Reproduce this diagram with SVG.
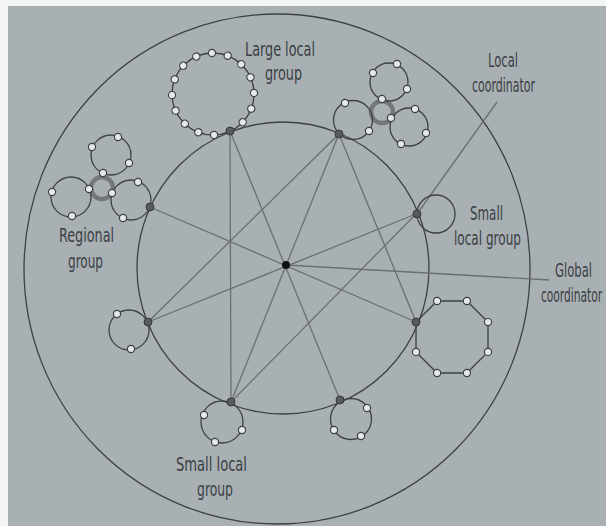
<svg xmlns="http://www.w3.org/2000/svg" width="606" height="526" viewBox="0 0 606 526">
<style>
.ring{fill:none;stroke:#3d4045;stroke-width:1.3}
.s{fill:#e6e9ea;stroke:#3d4045;stroke-width:1.2}
.lc{fill:#585b5e;stroke:#35383c;stroke-width:1}
.hub{fill:none;stroke:#74777a;stroke-width:4.5}
.conn line{stroke:#6a6f72;stroke-width:1.3}
text{font-family:"Liberation Sans Narrow","DejaVu Sans Condensed","Liberation Sans",sans-serif;font-size:19px;fill:#3a3e44}
text.dc{font-family:"DejaVu Sans Condensed","DejaVu Sans",sans-serif}
</style>
<rect width="606" height="526" fill="#f4f5f5"/>
<rect x="8" y="6" width="598" height="520" fill="#a9b0b3"/>
<g id="global-region">
<ellipse class="ring" cx="277" cy="269" rx="253" ry="255"/>
<circle class="ring" cx="283" cy="268" r="146"/>
</g>
<g class="conn" id="connectors">
<line x1="230" y1="131" x2="231" y2="402"/>
<line x1="230" y1="131" x2="340" y2="400"/>
<line x1="339" y1="134" x2="148" y2="322"/>
<line x1="339" y1="134" x2="231" y2="402"/>
<line x1="339" y1="134" x2="416" y2="322"/>
<line x1="150" y1="207" x2="416" y2="322"/>
<line x1="416" y1="214" x2="148" y2="322"/>
<line x1="416" y1="214" x2="231" y2="402"/>
<line x1="286" y1="265" x2="549" y2="280"/>
<line x1="497" y1="102" x2="417" y2="214"/>
</g>
<g id="large-local-group">
<circle class="ring" cx="213" cy="94" r="41"/>
<g transform="rotate(88.5 213 94)"><circle class="s" cx="254" cy="94" r="3.6"/></g>
<g transform="rotate(111 213 94)"><circle class="s" cx="254" cy="94" r="3.6"/></g>
<g transform="rotate(133.5 213 94)"><circle class="s" cx="254" cy="94" r="3.6"/></g>
<g transform="rotate(156 213 94)"><circle class="s" cx="254" cy="94" r="3.6"/></g>
<g transform="rotate(178.5 213 94)"><circle class="s" cx="254" cy="94" r="3.6"/></g>
<g transform="rotate(201 213 94)"><circle class="s" cx="254" cy="94" r="3.6"/></g>
<g transform="rotate(223.5 213 94)"><circle class="s" cx="254" cy="94" r="3.6"/></g>
<g transform="rotate(246 213 94)"><circle class="s" cx="254" cy="94" r="3.6"/></g>
<g transform="rotate(268.5 213 94)"><circle class="s" cx="254" cy="94" r="3.6"/></g>
<g transform="rotate(291 213 94)"><circle class="s" cx="254" cy="94" r="3.6"/></g>
<g transform="rotate(313.5 213 94)"><circle class="s" cx="254" cy="94" r="3.6"/></g>
<g transform="rotate(336 213 94)"><circle class="s" cx="254" cy="94" r="3.6"/></g>
<g transform="rotate(358.5 213 94)"><circle class="s" cx="254" cy="94" r="3.6"/></g>
<g transform="rotate(21 213 94)"><circle class="s" cx="254" cy="94" r="3.6"/></g>
<g transform="rotate(43.5 213 94)"><circle class="s" cx="254" cy="94" r="3.6"/></g>
<circle class="lc" cx="230" cy="131" r="4"/>
</g>
<g id="regional-group-ne">
<circle class="hub" cx="382" cy="112" r="11"/>
<circle class="ring" cx="389" cy="82" r="19"/>
<circle class="ring" cx="353" cy="120" r="19.5"/>
<circle class="ring" cx="409" cy="127" r="19"/>
<circle class="s" cx="373" cy="73" r="3.6"/>
<circle class="s" cx="397" cy="64" r="3.6"/>
<circle class="s" cx="407" cy="89" r="3.6"/>
<circle class="s" cx="382" cy="99" r="3.6"/>
<circle class="s" cx="345" cy="103" r="3.6"/>
<circle class="s" cx="369" cy="131" r="3.6"/>
<circle class="s" cx="391" cy="118" r="3.6"/>
<circle class="s" cx="415" cy="109" r="3.6"/>
<circle class="s" cx="426" cy="133" r="3.6"/>
<circle class="s" cx="401" cy="144" r="3.6"/>
<circle class="lc" cx="339" cy="134" r="4"/>
</g>
<g id="regional-group-w">
<circle class="hub" cx="102" cy="188" r="11"/>
<circle class="ring" cx="111" cy="155" r="20"/>
<circle class="ring" cx="71" cy="197" r="20"/>
<circle class="ring" cx="131" cy="200" r="20"/>
<circle class="s" cx="92" cy="147" r="3.6"/>
<circle class="s" cx="118" cy="137" r="3.6"/>
<circle class="s" cx="129" cy="163" r="3.6"/>
<circle class="s" cx="103" cy="173" r="3.6"/>
<circle class="s" cx="52" cy="192" r="3.6"/>
<circle class="s" cx="89" cy="189" r="3.6"/>
<circle class="s" cx="72" cy="216" r="3.6"/>
<circle class="s" cx="112" cy="193" r="3.6"/>
<circle class="s" cx="138" cy="182" r="3.6"/>
<circle class="s" cx="123" cy="218" r="3.6"/>
<circle class="lc" cx="150" cy="207" r="4"/>
</g>
<g id="small-local-group-e">
<circle class="ring" cx="436" cy="214" r="19"/>
<circle class="lc" cx="417" cy="214" r="4"/>
</g>
<g id="local-group-w">
<circle class="ring" cx="129" cy="330" r="20"/>
<circle class="s" cx="117" cy="314" r="3.6"/>
<circle class="s" cx="131" cy="349" r="3.6"/>
<circle class="lc" cx="148" cy="322" r="4"/>
</g>
<g id="local-group-e">
<polygon class="ring" points="488,351.9 466.9,373 437.1,373 416,351.9 416,322.1 437.1,301 466.9,301 488,322.1"/>
<circle class="s" cx="488" cy="351.9" r="3.6"/>
<circle class="s" cx="466.9" cy="373" r="3.6"/>
<circle class="s" cx="437.1" cy="373" r="3.6"/>
<circle class="s" cx="416" cy="351.9" r="3.6"/>
<circle class="s" cx="437.1" cy="301" r="3.6"/>
<circle class="s" cx="466.9" cy="301" r="3.6"/>
<circle class="s" cx="488" cy="322.1" r="3.6"/>
<circle class="lc" cx="416" cy="322" r="4"/>
</g>
<g id="small-local-group-s">
<circle class="ring" cx="222" cy="422" r="21"/>
<circle class="s" cx="204" cy="415" r="3.6"/>
<circle class="s" cx="242" cy="430" r="3.6"/>
<circle class="s" cx="215" cy="442" r="3.6"/>
<circle class="lc" cx="231" cy="402" r="4"/>
</g>
<g id="local-group-se">
<circle class="ring" cx="351" cy="419" r="20.5"/>
<circle class="s" cx="367" cy="408" r="3.6"/>
<circle class="s" cx="334" cy="430" r="3.6"/>
<circle class="s" cx="361" cy="436" r="3.6"/>
<circle class="lc" cx="340" cy="400" r="4"/>
</g>
<g id="global-coordinator">
<circle cx="286" cy="265" r="4" fill="#111"/>
</g>
<g id="labels">
<text x="245" y="56" textLength="70" lengthAdjust="spacingAndGlyphs">Large local</text>
<text x="265" y="80" textLength="37" lengthAdjust="spacingAndGlyphs">group</text>
<text x="488" y="67" textLength="30" lengthAdjust="spacingAndGlyphs">Local</text>
<text x="472" y="92" textLength="63" lengthAdjust="spacingAndGlyphs">coordinator</text>
<text x="59" y="242" textLength="55" lengthAdjust="spacingAndGlyphs">Regional</text>
<text x="68" y="268" textLength="35" lengthAdjust="spacingAndGlyphs">group</text>
<text x="470" y="220" textLength="33" lengthAdjust="spacingAndGlyphs">Small</text>
<text x="454" y="245" textLength="67" lengthAdjust="spacingAndGlyphs">local group</text>
<text class="dc" transform="translate(555 277) scale(0.68 1)" textLength="54.4" lengthAdjust="spacingAndGlyphs">Global</text>
<text class="dc" transform="translate(541 302) scale(0.62 1)" textLength="98.4" lengthAdjust="spacingAndGlyphs">coordinator</text>
<text x="176" y="471" textLength="71" lengthAdjust="spacingAndGlyphs">Small local</text>
<text x="197" y="496" textLength="36" lengthAdjust="spacingAndGlyphs">group</text>
</g>
</svg>
